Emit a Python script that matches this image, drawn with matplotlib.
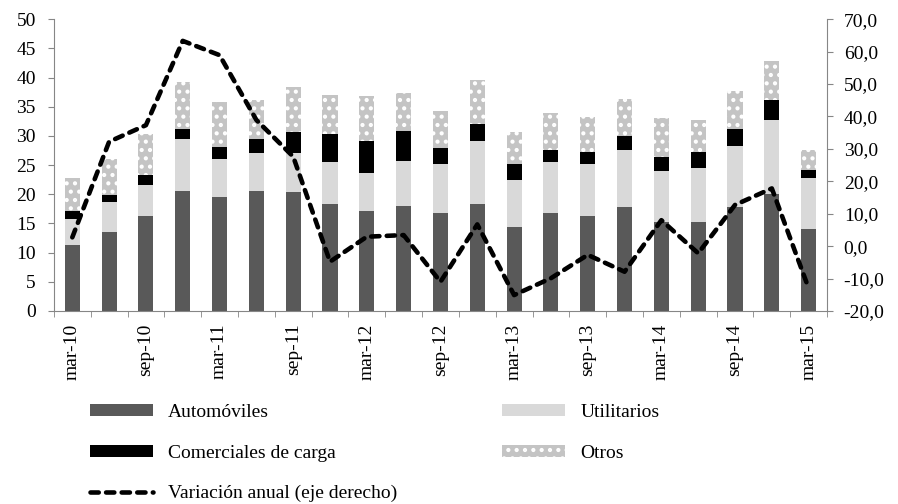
import matplotlib
matplotlib.use("Agg")
import matplotlib.pyplot as plt
import numpy as np
from matplotlib.patches import Patch
from matplotlib.lines import Line2D

plt.rcParams['font.family'] = ['Liberation Serif', 'DejaVu Serif']
plt.rcParams['hatch.linewidth'] = 1.8

periods = ["mar-10", "jun-10", "sep-10", "dic-10", "mar-11", "jun-11", "sep-11", "dic-11",
           "mar-12", "jun-12", "sep-12", "dic-12", "mar-13", "jun-13", "sep-13", "dic-13",
           "mar-14", "jun-14", "sep-14", "dic-14", "mar-15"]
automoviles = [11.3, 13.5, 16.3, 20.5, 19.6, 20.5, 20.3, 18.3, 17.1, 18.0, 16.8,
               18.3, 14.4, 16.8, 16.3, 17.8, 15.2, 15.3, 17.8, 20.0, 14.0]
utilitarios_top = [15.7, 18.7, 21.5, 29.5, 26.0, 27.0, 27.0, 25.5, 23.6, 25.7, 25.1,
                   29.1, 22.4, 25.5, 25.1, 27.6, 23.9, 24.5, 28.2, 32.8, 22.7]
comerciales_top = [17.2, 19.9, 23.3, 31.2, 28.1, 29.4, 30.6, 30.3, 29.1, 30.9, 27.9,
                   32.1, 25.1, 27.6, 27.2, 30.0, 26.4, 27.2, 31.2, 36.1, 24.1]
otros_top = [22.7, 26.0, 30.3, 39.2, 35.8, 36.1, 38.3, 37.0, 36.8, 37.3, 34.3,
             39.5, 30.6, 34.0, 33.3, 36.4, 33.0, 32.8, 37.7, 42.9, 27.6]
variacion = [2.7, 32.2, 37.3, 63.3, 58.9, 38.9, 27.6, -4.8, 2.9, 3.4, -11.0,
             6.7, -15.1, -9.9, -2.7, -7.9, 8.0, -2.2, 12.7, 17.8, -13.0]
tick_labels = ["mar-10", "sep-10", "mar-11", "sep-11", "mar-12", "sep-12",
               "mar-13", "sep-13", "mar-14", "sep-14", "mar-15"]

auto = np.array(automoviles)
util = np.array(utilitarios_top) - auto
com = np.array(comerciales_top) - np.array(utilitarios_top)
otr = np.array(otros_top) - np.array(comerciales_top)

FS = 14
fig = plt.figure(figsize=(8.98, 5.04), dpi=100)
ax = fig.add_axes([0.060, 0.383, 0.861, 0.579])
x = np.arange(len(periods))
w = 0.41
ax.bar(x, auto, w, color='#595959', linewidth=0)
ax.bar(x, util, w, bottom=auto, color='#d9d9d9', linewidth=0)
ax.bar(x, com, w, bottom=auto + util, color='black', linewidth=0)
ax.bar(x, otr, w, bottom=auto + util + com, color='#c4c4c4', edgecolor='white',
       hatch='..', linewidth=0)

ax.set_xlim(-0.5, len(periods) - 0.5)
ax.set_ylim(0, 50)
ax.set_yticks(np.arange(0, 51, 5))
ax.set_xticks(x[::2])
ax.set_xticklabels(tick_labels, rotation=90, fontsize=FS)
ax.set_xticks(np.arange(-0.5, len(periods), 1), minor=True)
ax.tick_params(axis='x', which='major', length=0, pad=9)
ax.tick_params(axis='x', which='minor', length=4, direction='out', color='#868686')
ax.tick_params(axis='y', length=4, direction='out', color='#868686', labelsize=FS, pad=9)

ax2 = ax.twinx()
ax2.plot(x, variacion, color='black', lw=3.3, linestyle=(0, (1.8, 1.6)),
         dash_capstyle='round')
ax2.set_ylim(-20, 70)
ax2.set_yticks(np.arange(-20, 71, 10))
ax2.set_yticklabels([f"{v:.1f}".replace('.', ',') for v in np.arange(-20, 71, 10)])
ax2.tick_params(axis='y', length=4, direction='out', color='#868686', labelsize=FS, pad=8)

for a in (ax, ax2):
    a.spines['top'].set_visible(False)
    for s in ('left', 'right', 'bottom'):
        a.spines[s].set_color('#868686')
ax.spines['right'].set_visible(False)
ax2.spines['left'].set_visible(False)
ax2.spines['bottom'].set_visible(False)

handles = [
    Patch(facecolor='#595959', linewidth=0),
    Patch(facecolor='black', linewidth=0),
    Line2D([], [], color='black', lw=3.3, linestyle=(0, (1.8, 1.6)), dash_capstyle='round'),
    Patch(facecolor='#d9d9d9', linewidth=0),
    Patch(facecolor='#c4c4c4', edgecolor='white', hatch='..', linewidth=0),
]
labels = ["Automóviles", "Comerciales de carga", "Variación anual (eje derecho)",
          "Utilitarios", "Otros"]
fig.legend(handles, labels, ncol=2, loc='upper left', bbox_to_anchor=(0.100, 0.198),
           frameon=False, fontsize=FS, handlelength=3.25, handleheight=0.55,
           handletextpad=0.77, columnspacing=5.4, labelspacing=1.2, borderaxespad=0,
           borderpad=0)

fig.savefig("out.png", dpi=100)
